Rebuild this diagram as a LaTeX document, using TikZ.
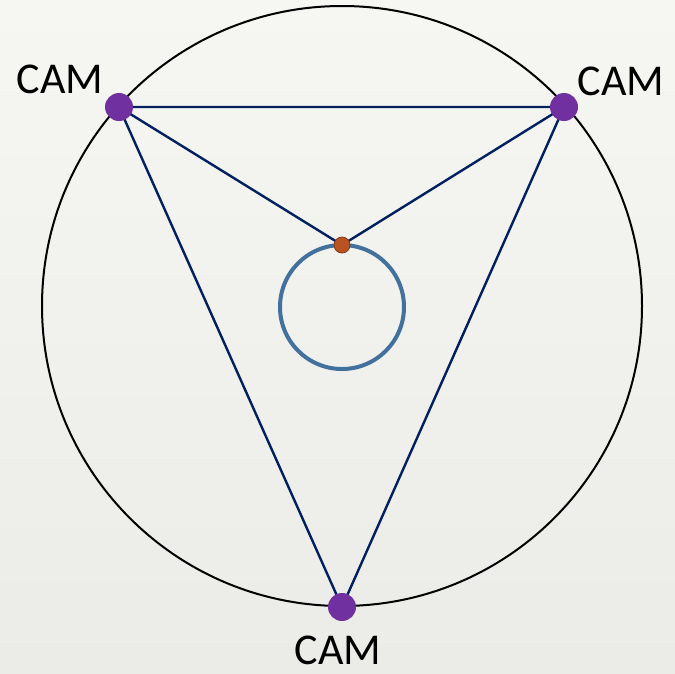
\documentclass[tikz,border=0pt]{standalone}
\usepackage{fontspec}
\setmainfont{Carlito}
\definecolor{bgA}{RGB}{246,246,243}
\definecolor{bgB}{RGB}{235,235,231}
\definecolor{navy}{RGB}{0,32,96}
\definecolor{campurple}{RGB}{112,48,160}
\definecolor{steel}{RGB}{65,113,156}
\definecolor{dotorange}{RGB}{185,84,34}
\tikzset{
  cam/.style={circle,fill=campurple,inner sep=0pt,minimum size=28pt},
  target/.style={circle,fill=dotorange,draw=dotorange!70!black,line width=0.8pt,inner sep=0pt,minimum size=16pt},
  ray/.style={draw=navy,line width=2.4pt},
  camlabel/.style={font=\fontsize{44}{44}\selectfont,text=black,inner sep=0pt}
}
\begin{document}
\begin{tikzpicture}[x=1pt,y=-1pt]
\shade[top color=bgA,bottom color=bgB] (0,0) rectangle (675,673);
\useasboundingbox (0,0) rectangle (675,673);
\draw[black,line width=2pt] (342,306) circle[radius=300];
\draw[steel,line width=4pt] (342,307) circle[radius=62];
\coordinate (cl) at (119,107);
\coordinate (cr) at (564,107);
\coordinate (cb) at (342,607);
\coordinate (t) at (342,245);
\draw[ray] (cl) -- (cr) -- (cb) -- cycle;
\draw[ray] (cl) -- (t) -- (cr);
\node[target] (tg) at (t) {};
\node[cam] (camL) at (cl) {};
\node[cam] (camR) at (cr) {};
\node[cam] (camB) at (cb) {};
\node[camlabel] (lblL) at (60,79) {CAM};
\node[camlabel] (lblR) at (621,81) {CAM};
\node[camlabel] (lblB) at (338,650) {CAM};
\end{tikzpicture}
\end{document}
